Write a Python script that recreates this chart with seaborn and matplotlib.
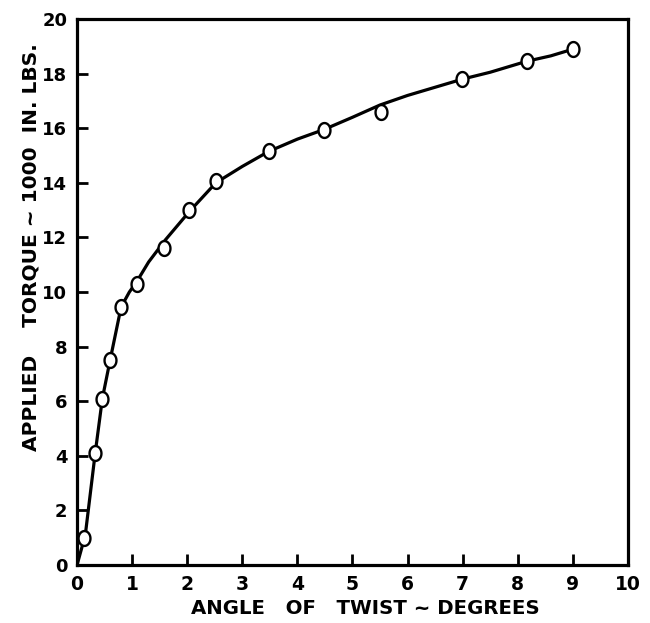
import numpy as np
import pandas as pd
import matplotlib.pyplot as plt
import seaborn as sns
from matplotlib.path import Path

# Measured points (angle of twist in degrees, torque in 1000 in-lbs)
angle = [0.13, 0.33, 0.46, 0.60, 0.80, 1.09, 1.58, 2.04, 2.52, 3.48, 4.48, 5.51, 6.99, 8.16, 9.01]
torque = [1.0, 4.1, 6.1, 7.5, 9.45, 10.28, 11.6, 13.0, 14.05, 15.15, 15.95, 16.6, 17.8, 18.45, 18.9]

# Faired curve
curve_x = [0, 0.15, 0.33, 0.46, 0.60, 0.80, 0.95, 1.09, 1.30, 1.60, 2.04, 2.52, 3.00, 3.48,
           4.00, 4.48, 5.00, 5.50, 6.00, 6.50, 7.00, 7.50, 8.16, 8.60, 9.01]
curve_y = [0, 1.1, 4.1, 6.1, 7.5, 9.45, 10.0, 10.4, 11.1, 11.9, 12.95, 14.0, 14.6, 15.15,
           15.6, 15.95, 16.4, 16.85, 17.2, 17.5, 17.8, 18.05, 18.45, 18.65, 18.9]

x_ticks = list(range(0, 11))
y_ticks = list(range(0, 21, 2))

pts = pd.DataFrame({'angle': angle, 'torque': torque})
crv = pd.DataFrame({'x': curve_x, 'y': curve_y})

sns.set_style('ticks')
plt.rcParams['font.family'] = ['DejaVu Sans']

fig = plt.figure(figsize=(6.5, 6.23), dpi=100)
ax = fig.add_axes([0.1185, 0.093, 0.8475, 0.8765])

# slightly tall ellipse marker like the hand-drawn circles
t = np.linspace(0, 2 * np.pi, 40)
oval = Path(np.column_stack([0.8 * np.cos(t), np.sin(t)]), closed=True)

sns.lineplot(data=crv, x='x', y='y', ax=ax, color='black', linewidth=2.3,
             sort=False, estimator=None)
sns.scatterplot(data=pts, x='angle', y='torque', ax=ax, marker=oval, s=115,
                facecolor='white', edgecolor='black', linewidth=1.7, zorder=3)

ax.set_xlim(0, 10)
ax.set_ylim(0, 20)
ax.set_xticks(x_ticks)
ax.set_yticks(y_ticks)
ax.set_xticklabels([str(v) for v in x_ticks], fontsize=13.5, fontweight='bold')
ax.set_yticklabels([str(v) for v in y_ticks], fontsize=13, fontweight='bold')
ax.tick_params(direction='in', length=8, width=2, pad=7, colors='black')

for side in ['left', 'right', 'top', 'bottom']:
    ax.spines[side].set_linewidth(2.3)
    ax.spines[side].set_color('black')

ax.set_xlabel('ANGLE   OF   TWIST ~ DEGREES', fontsize=14.2, fontweight='bold', color='black')
ax.set_ylabel('APPLIED    TORQUE ~ 1000  IN. LBS.', fontsize=14.5, fontweight='bold', color='black')
ax.xaxis.set_label_coords(0.5236, -0.062)
ax.yaxis.set_label_coords(-0.066, 0.582)

plt.savefig('out.png', dpi=100)
plt.close()
